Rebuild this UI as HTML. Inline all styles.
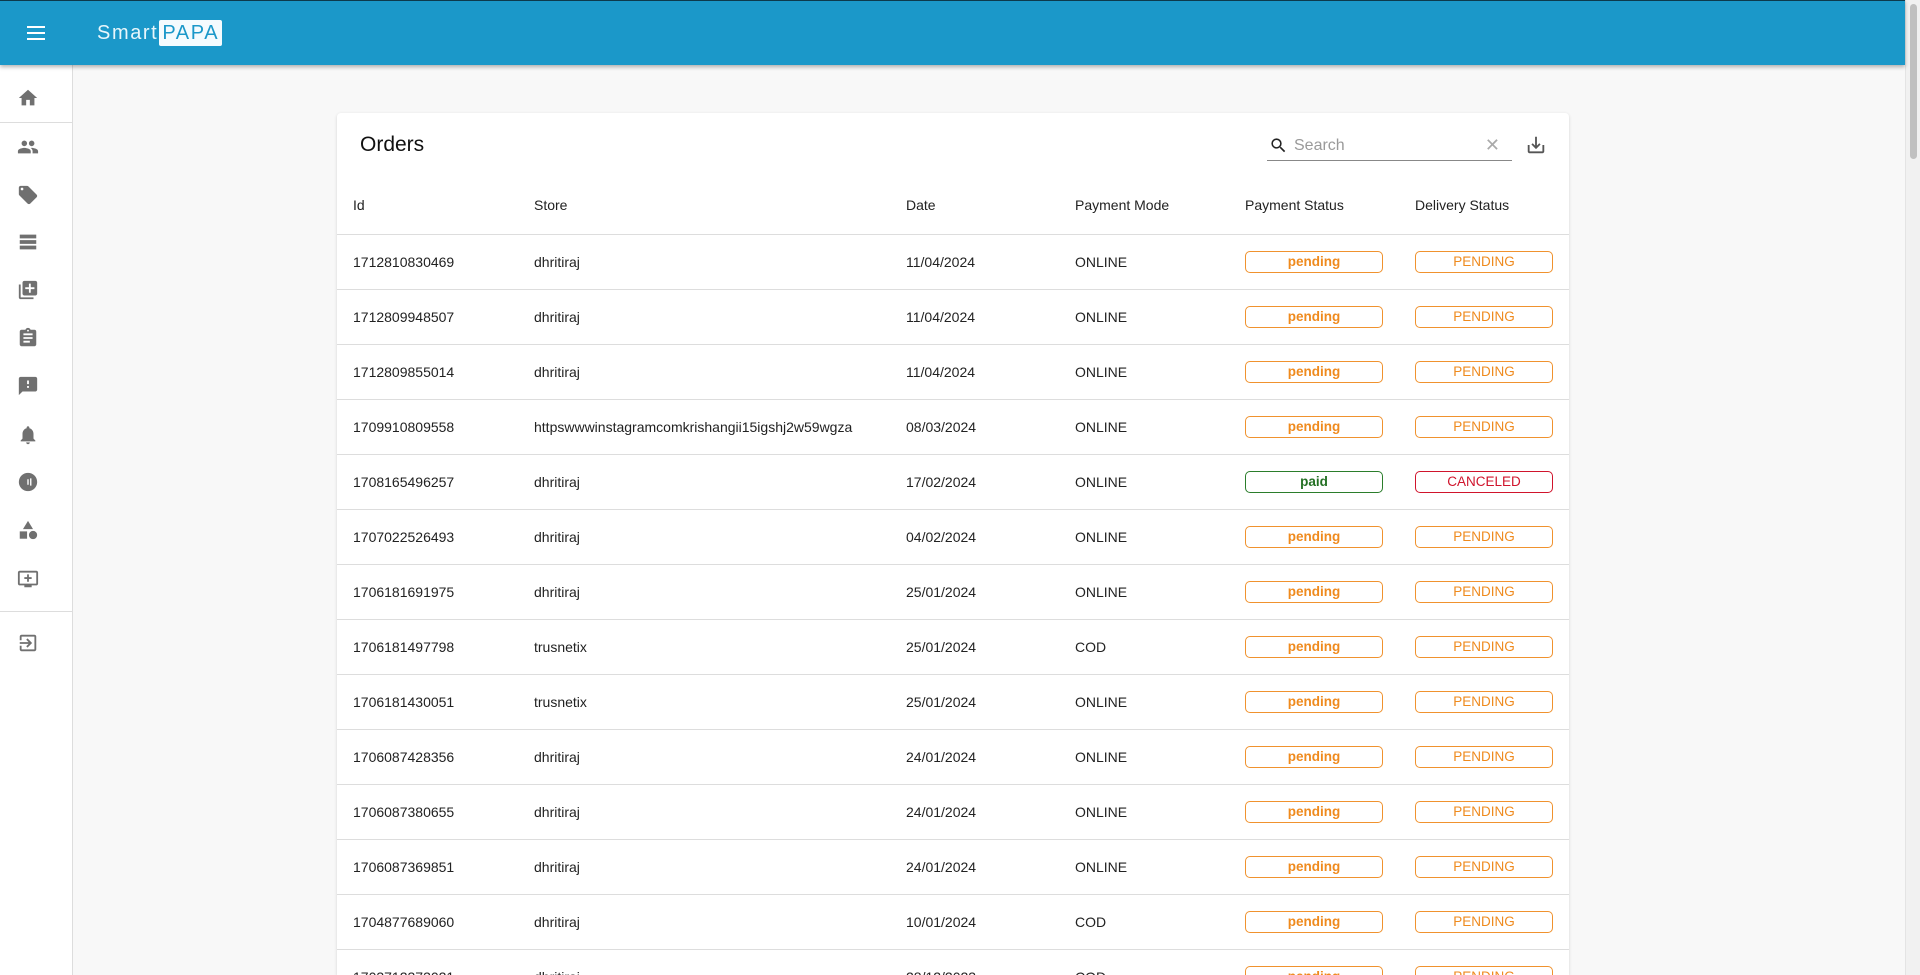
<!DOCTYPE html>
<html style="overflow:hidden;height:975px"><head><meta charset="utf-8"><style>
*{box-sizing:border-box;margin:0;padding:0}
body{width:1920px;height:975px;overflow:hidden;background:#f8f8f8;font-family:"Liberation Sans",sans-serif;color:#222;position:relative}
.hdr{position:absolute;left:0;top:0;width:1905px;height:65px;background:#1b98c9;box-shadow:0 2px 4px rgba(0,0,0,.3);z-index:3;border-top:1px solid #0d3a4c}
.logo{position:absolute;left:97px;top:19px;font-size:20px;letter-spacing:1.6px;color:#e8f6fb;line-height:26px}
.logo span{background:#f4fbfe;color:#1b98c9;padding:0 3px;border-radius:2px;display:inline-block;margin-left:1px}
.side{position:absolute;left:0;top:65px;width:73px;height:910px;background:#fff;border-right:1px solid #ddd}
.ic{position:absolute;left:17px;width:22px;height:22px;fill:#707070}
.div{position:absolute;left:0;width:72px;height:1px;background:#ddd}
.sb{position:absolute;right:0;top:0;width:15px;height:975px;background:#f1f1f1;border-left:1px solid #e4e4e4}
.sb div{position:absolute;left:4px;top:4px;width:7px;height:155px;background:#c0c0c0;border-radius:4px}
.card{position:absolute;left:337px;top:113px;width:1232px;height:862px;overflow:hidden;background:#fff;border-radius:4px 4px 0 0;box-shadow:0 1px 3px rgba(0,0,0,.15)}
.title{position:absolute;left:23px;top:20px;font-size:21px;color:#111}
.search{position:absolute;left:930px;top:19px;width:245px;height:29px;border-bottom:1.5px solid #888}
.search .ph{position:absolute;left:27px;top:5px;font-size:16px;color:#9a9a9a}
.search .x{position:absolute;right:12px;top:3px;font-size:18px;color:#aaa}
table{position:absolute;left:0;top:62px;width:1232px;border-collapse:collapse;font-size:14px}
th{font-weight:normal;text-align:left;height:59px;color:#222;border-bottom:1px solid #ddd;padding-top:2px}
td{height:55px;border-bottom:1px solid #ddd;color:#222}
th:first-child,td:first-child{padding-left:16px}
td:nth-child(5),td:nth-child(6),th:nth-child(5),th:nth-child(6){padding-left:1px}
.b{display:block;width:138px;height:22px;border:1px solid #f0922e;border-radius:5px;color:#ef8a1d;text-align:center;font-size:13.5px;line-height:20px;font-weight:bold}
.g{border-color:#2b7d2b;color:#237023}.r{border-color:#d0142c;color:#d0142c;font-weight:normal}
.pend{font-weight:normal}
</style></head><body>
<div class="hdr">
<svg style="position:absolute;left:25px;top:22px" width="22" height="20" viewBox="0 0 22 20"><rect x="2" y="3" width="18" height="2" fill="#fff"/><rect x="2" y="9" width="18" height="2" fill="#fff"/><rect x="2" y="15" width="18" height="2" fill="#fff"/></svg>
<div class="logo">Smart<span>PAPA</span></div>
</div>
<div class="side">
<svg class="ic" style="top:22px" viewBox="0 0 24 24"><path d="M10 20v-6h4v6h5v-8h3L12 3 2 12h3v8z"/></svg>
<div class="div" style="top:57px"></div>
<svg class="ic" style="top:71px" viewBox="0 0 24 24"><path d="M16 11c1.66 0 2.99-1.34 2.99-3S17.66 5 16 5c-1.66 0-3 1.34-3 3s1.34 3 3 3zm-8 0c1.66 0 2.99-1.34 2.99-3S9.660 5 8 5C6.34 5 5 6.34 5 8s1.34 3 3 3zm0 2c-2.33 0-7 1.17-7 3.5V19h14v-2.5c0-2.33-4.67-3.5-7-3.5zm8 0c-.29 0-.62.02-.97.05 1.16.84 1.97 1.97 1.97 3.45V19h6v-2.5c0-2.33-4.67-3.5-7-3.5z"/></svg>
<svg class="ic" style="top:119px" viewBox="0 0 24 24"><path d="M21.4 11.6l-9-9C12.05 2.25 11.55 2 11 2H4c-1.1 0-2 .9-2 2v7c0 .55.22 1.05.59 1.42l9 9c.36.36.86.58 1.41.58s1.05-.22 1.41-.59l7-7c.37-.36.59-.86.59-1.41s-.23-1.06-.6-1.4zM5.5 7C4.67 7 4 6.33 4 5.5S4.67 4 5.5 4 7 4.67 7 5.5 6.33 7 5.5 7z"/></svg>
<svg class="ic" style="top:166px" viewBox="0 0 24 24"><path d="M3 4h18v4H3zM3 10h18v4H3zM3 16h18v4H3z"/></svg>
<svg class="ic" style="top:214px" viewBox="0 0 24 24"><path d="M4 6H2v14c0 1.1.9 2 2 2h14v-2H4V6zm16-4H8c-1.1 0-2 .9-2 2v12c0 1.1.9 2 2 2h12c1.1 0 2-.9 2-2V4c0-1.1-.9-2-2-2zm-1 9h-4v4h-2v-4H9V9h4V5h2v4h4v2z"/></svg>
<svg class="ic" style="top:262px" viewBox="0 0 24 24"><path d="M19 3h-4.2C14.4 1.8 13.3 1 12 1s-2.4.8-2.8 2H5c-1.1 0-2 .9-2 2v14c0 1.1.9 2 2 2h14c1.1 0 2-.9 2-2V5c0-1.1-.9-2-2-2zm-7 0c.55 0 1 .45 1 1s-.45 1-1 1-1-.45-1-1 .45-1 1-1zm2 14H7v-2h7v2zm3-4H7v-2h10v2zm0-4H7V7h10v2z"/></svg>
<svg class="ic" style="top:310px" viewBox="0 0 24 24"><path d="M20 2H4c-1.1 0-2 .9-2 2v18l4-4h14c1.1 0 2-.9 2-2V4c0-1.1-.9-2-2-2zm-7 12h-2v-2h2v2zm0-4h-2V6h2v4z"/></svg>
<svg class="ic" style="top:359px" viewBox="0 0 24 24"><path d="M12 22c1.1 0 2-.9 2-2h-4c0 1.1.9 2 2 2zm6-6v-5c0-3.07-1.64-5.64-4.5-6.32V4c0-.83-.67-1.5-1.5-1.5s-1.5.67-1.5 1.5v.68C7.63 5.36 6 7.92 6 11v5l-2 2v1h16v-1l-2-2z"/></svg>
<svg class="ic" style="top:406px" viewBox="0 0 24 24"><circle cx="12" cy="12" r="10"/><path d="M12 9v6M15 8v8" stroke="#fff" stroke-width="1.5"/></svg>
<svg class="ic" style="top:454px" viewBox="0 0 24 24"><path d="M12 2l-5.5 9h11z"/><circle cx="17.5" cy="17.5" r="4.5"/><path d="M3 13.5h8v8H3z"/></svg>
<svg class="ic" style="top:503px" viewBox="0 0 24 24"><path d="M21 3H3c-1.1 0-2 .9-2 2v12c0 1.1.9 2 2 2h5v2h8v-2h5c1.1 0 2-.9 2-2V5c0-1.1-.9-2-2-2zm0 14H3V5h18v12zm-5-7v2h-3v3h-2v-3H8v-2h3V7h2v3h3z"/></svg>
<div class="div" style="top:546px"></div>
<svg class="ic" style="top:567px" viewBox="0 0 24 24"><path d="M10.09 15.59L11.5 17l5-5-5-5-1.41 1.41L12.67 11H3v2h9.67l-2.58 2.59zM19 3H5c-1.11 0-2 .9-2 2v4h2V5h14v14H5v-4H3v4c0 1.1.89 2 2 2h14c1.1 0 2-.9 2-2V5c0-1.1-.9-2-2-2z"/></svg>
</div>
<div class="sb"><div></div></div>
<div class="card">
<div class="title">Orders</div>
<div class="search">
<svg style="position:absolute;left:2px;top:4px" width="19" height="19" viewBox="0 0 24 24"><path fill="#222" d="M15.5 14h-.79l-.28-.27A6.47 6.47 0 0016 9.5 6.5 6.5 0 109.5 16c1.61 0 3.09-.59 4.23-1.57l.27.28v.79l5 4.99L20.49 19l-4.99-5zm-6 0C7.01 14 5 11.990 5 9.5S7.01 5 9.5 5 14 7.01 14 9.5 11.99 14 9.5 14z"/></svg>
<div class="ph">Search</div><div class="x">✕</div></div>
<svg style="position:absolute;left:1188px;top:21px" width="22" height="22" viewBox="0 0 24 24"><path fill="#555" d="M19 12v7H5v-7H3v7c0 1.1.9 2 2 2h14c1.1 0 2-.9 2-2v-7h-2zm-6 .67l2.59-2.58L17 11.5l-5 5-5-5 1.41-1.41L11 12.67V3h2z"/></svg>
<table>
<colgroup><col style="width:197px"><col style="width:372px"><col style="width:169px"><col style="width:169px"><col style="width:170px"><col></colgroup>
<tr><th>Id</th><th>Store</th><th>Date</th><th>Payment Mode</th><th>Payment Status</th><th>Delivery Status</th></tr>
<tr><td>1712810830469</td><td>dhritiraj</td><td>11/04/2024</td><td>ONLINE</td><td><span class="b">pending</span></td><td><span class="b pend">PENDING</span></td></tr>
<tr><td>1712809948507</td><td>dhritiraj</td><td>11/04/2024</td><td>ONLINE</td><td><span class="b">pending</span></td><td><span class="b pend">PENDING</span></td></tr>
<tr><td>1712809855014</td><td>dhritiraj</td><td>11/04/2024</td><td>ONLINE</td><td><span class="b">pending</span></td><td><span class="b pend">PENDING</span></td></tr>
<tr><td>1709910809558</td><td>httpswwwinstagramcomkrishangii15igshj2w59wgza</td><td>08/03/2024</td><td>ONLINE</td><td><span class="b">pending</span></td><td><span class="b pend">PENDING</span></td></tr>
<tr><td>1708165496257</td><td>dhritiraj</td><td>17/02/2024</td><td>ONLINE</td><td><span class="b g">paid</span></td><td><span class="b r">CANCELED</span></td></tr>
<tr><td>1707022526493</td><td>dhritiraj</td><td>04/02/2024</td><td>ONLINE</td><td><span class="b">pending</span></td><td><span class="b pend">PENDING</span></td></tr>
<tr><td>1706181691975</td><td>dhritiraj</td><td>25/01/2024</td><td>ONLINE</td><td><span class="b">pending</span></td><td><span class="b pend">PENDING</span></td></tr>
<tr><td>1706181497798</td><td>trusnetix</td><td>25/01/2024</td><td>COD</td><td><span class="b">pending</span></td><td><span class="b pend">PENDING</span></td></tr>
<tr><td>1706181430051</td><td>trusnetix</td><td>25/01/2024</td><td>ONLINE</td><td><span class="b">pending</span></td><td><span class="b pend">PENDING</span></td></tr>
<tr><td>1706087428356</td><td>dhritiraj</td><td>24/01/2024</td><td>ONLINE</td><td><span class="b">pending</span></td><td><span class="b pend">PENDING</span></td></tr>
<tr><td>1706087380655</td><td>dhritiraj</td><td>24/01/2024</td><td>ONLINE</td><td><span class="b">pending</span></td><td><span class="b pend">PENDING</span></td></tr>
<tr><td>1706087369851</td><td>dhritiraj</td><td>24/01/2024</td><td>ONLINE</td><td><span class="b">pending</span></td><td><span class="b pend">PENDING</span></td></tr>
<tr><td>1704877689060</td><td>dhritiraj</td><td>10/01/2024</td><td>COD</td><td><span class="b">pending</span></td><td><span class="b pend">PENDING</span></td></tr>
<tr><td>1703712373021</td><td>dhritiraj</td><td>28/12/2023</td><td>COD</td><td><span class="b">pending</span></td><td><span class="b pend">PENDING</span></td></tr>
</table>
</div>
</body></html>
